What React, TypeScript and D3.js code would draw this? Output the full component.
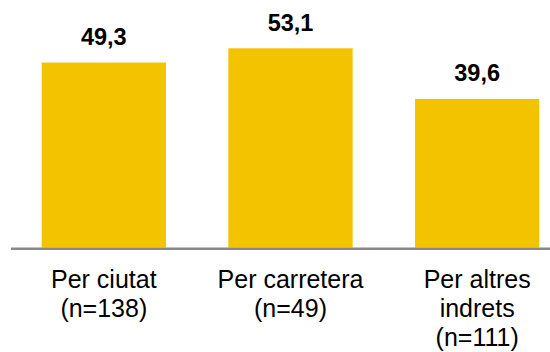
import React from "react";
import * as d3 from "d3";

const categories = ["Per ciutat", "Per carretera", "Per altres indrets"];
const categoryLines = [["Per ciutat", "(n=138)"], ["Per carretera", "(n=49)"], ["Per altres", "indrets", "(n=111)"]];
const values = [49.3, 53.1, 39.6];
const valueLabels = ["49,3", "53,1", "39,6"];

const W = 550;
const H = 352;
const FONT = "Arial, 'Liberation Sans', Helvetica, sans-serif";

export default function App() {
  const x = d3.scaleBand<string>().domain(categories).range([10.5, 570.5]).paddingInner(0.334).paddingOuter(0.167);
  const y = d3.scaleLinear().domain([0, 60]).range([247.5, 22.4]);
  const baseY = y(0);
  return (
    <svg width={W} height={H} style={{ position: "absolute", left: 0, top: 0, background: "#fff" }}>
      {categories.map((c, i) => {
        const x0 = x(c)!;
        const bw = x.bandwidth();
        const top = y(values[i]);
        return (
          <g key={c}>
            <rect x={x0} y={top} width={bw} height={baseY - top} fill="#F4C300" />
            <text x={x0 + bw / 2} y={top - 17.5} textAnchor="middle" fontFamily={FONT} fontWeight="bold" fontSize={23.5} fill="#000">
              {valueLabels[i]}
            </text>
            {categoryLines[i].map((ln, j) => (
              <text key={j} x={x0 + bw / 2} y={287.7 + j * 29} textAnchor="middle" fontFamily={FONT} fontSize={25} fill="#000">
                {ln}
              </text>
            ))}
          </g>
        );
      })}
      <line x1={11} x2={W} y1={baseY + 1.3} y2={baseY + 1.3} stroke="#898989" strokeWidth={2.4} />
    </svg>
  );
}
